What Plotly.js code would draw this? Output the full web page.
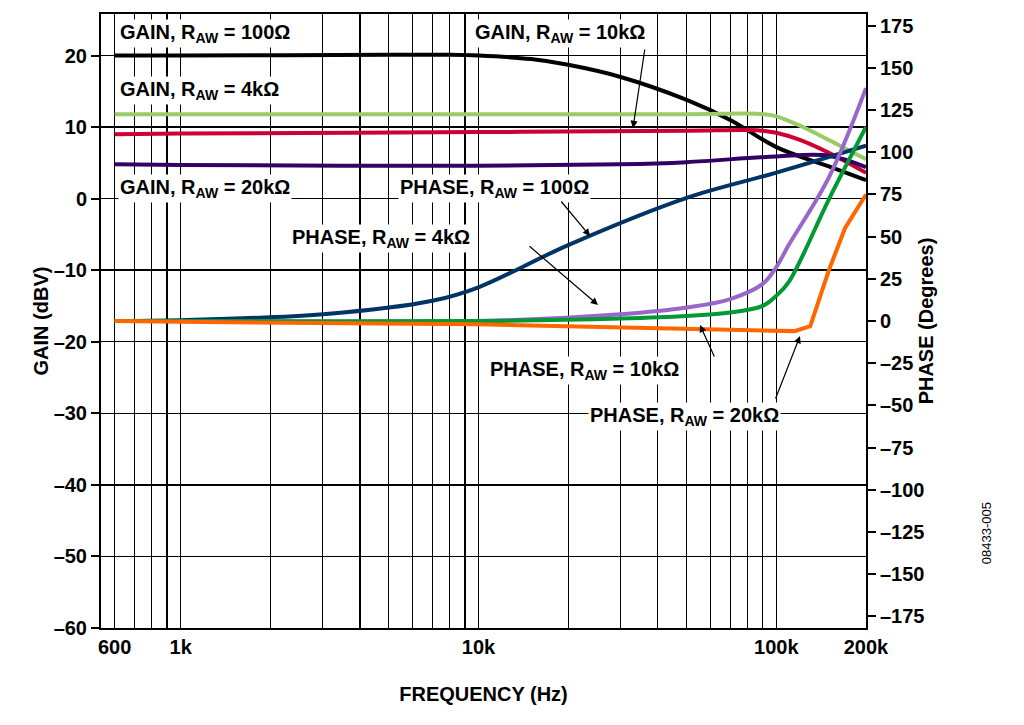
<!DOCTYPE html><html><head><meta charset="utf-8"><script src="https://cdn.plot.ly/plotly-3.0.1.min.js"></script>
<style>body{margin:0}#c{width:1024px;height:725px}</style></head><body><div id="c"></div><script>
const freqGain100=[600,1000,5000,8000,10000,15000,20000,30000,50000,70000,100000,150000,200000];
const gain100=[20,20,20.1,20.1,20,19.5,18.7,17,13.8,11,7.2,4.5,2.6];
const freqFlat=[600,1000,10000,50000,80000,90000,100000,120000,150000,200000];
const gain4k=[11.8,11.8,11.8,11.8,11.9,11.8,11.5,10.2,8.2,5.5];
const gain10k=[9,9.1,9.3,9.5,9.6,9.5,9.2,8.2,6.4,3.6];
const freqG20=[600,1000,10000,30000,50000,100000,150000,200000];
const gain20k=[4.8,4.7,4.6,4.8,5.1,5.9,6,4.4];
const freqP100=[600,1000,3000,7000,10000,20000,50000,100000,200000];
const phase100=[0,0.5,4,12,20,45,73,88,104];
const freqP=[600,1000,10000,30000,50000,70000,90000,100000,110000,150000,200000];
const phase4k=[0,0,0,4,8,13,22,32,45,85,138];
const phase10k=[0,0,0,1.5,3,5,9,15,23,72,115];
const freqP20=[600,1000,10000,30000,60000,100000,115000,130000,150000,170000,200000];
const phase20k=[0,-0.5,-2,-4,-5,-6,-6,-3,30,55,75];
const W=4;
const tr=[
 {x:freqGain100,y:gain100,line:{color:'#000000',width:W,shape:'spline'}},
 {x:freqFlat,y:gain4k,line:{color:'#99cc66',width:W,shape:'spline'}},
 {x:freqFlat,y:gain10k,line:{color:'#cc0033',width:W,shape:'spline'}},
 {x:freqG20,y:gain20k,line:{color:'#330066',width:W,shape:'spline'}},
 {x:freqP100,y:phase100,yaxis:'y2',line:{color:'#003366',width:W,shape:'spline'}},
 {x:freqP,y:phase4k,yaxis:'y2',line:{color:'#9966cc',width:W,shape:'spline'}},
 {x:freqP,y:phase10k,yaxis:'y2',line:{color:'#009933',width:W,shape:'spline'}},
 {x:freqP20,y:phase20k,yaxis:'y2',line:{color:'#ff6600',width:W}}
].map(t=>Object.assign({type:'scatter',mode:'lines',hoverinfo:'skip'},t));
const F={family:'Liberation Sans, Arial',size:20,color:'#000'};
function lbl(text,px,py){return {text:'<b>'+text+'</b>',xref:'paper',yref:'paper',x:(px-101)/765,y:(628-py)/614,showarrow:false,bgcolor:'#fff',font:{family:'Liberation Sans, Arial',size:20,color:'#000'},xanchor:'left',yanchor:'middle'};}
function arr(px0,py0,px1,py1){return {xref:'paper',yref:'paper',x:(px1-101)/765,y:(628-py1)/614,ax:(px0-101)/765,ay:(628-py0)/614,axref:'paper',ayref:'paper',text:'',showarrow:true,arrowhead:2,arrowsize:1.2,arrowwidth:1.2,arrowcolor:'#000'};}
const A=[
 lbl('GAIN, R<sub>AW</sub> = 100Ω',118,33),
 lbl('GAIN, R<sub>AW</sub> = 10kΩ',473,33),
 lbl('GAIN, R<sub>AW</sub> = 4kΩ',118,90),
 lbl('GAIN, R<sub>AW</sub> = 20kΩ',118,188),
 lbl('PHASE, R<sub>AW</sub> = 100Ω',398,188),
 lbl('PHASE, R<sub>AW</sub> = 4kΩ',290,238),
 lbl('PHASE, R<sub>AW</sub> = 10kΩ',488,370),
 lbl('PHASE, R<sub>AW</sub> = 20kΩ',588,416),
 arr(645,48,633,128), arr(560,200,590,236), arr(528,245,598,305), arr(715,358,700,325), arr(775,400,800,336)
];
Plotly.newPlot('c',tr,{width:1024,height:725,showlegend:false,margin:{l:101,r:158,t:14,b:97},
 paper_bgcolor:'#fff',plot_bgcolor:'#fff',font:F,
 xaxis:{type:'log',range:[Math.log10(540),Math.log10(200000)],tickvals:[600,1000,10000,100000,200000],ticktext:['<b>600</b>','<b>1k</b>','<b>10k</b>','<b>100k</b>','<b>200k</b>'],
  showgrid:true,gridcolor:'#000',gridwidth:1.4,minor:{showgrid:true,gridcolor:'#000',gridwidth:1.2,tickvals:[700,800,900,2000,3000,4000,5000,6000,7000,8000,9000,20000,30000,40000,50000,60000,70000,80000,90000]},
  showline:true,linecolor:'#000',linewidth:2,mirror:true,ticks:'',title:{text:'<b>FREQUENCY (Hz)</b>',font:F,standoff:30},tickfont:F},
 yaxis:{range:[-60,25.8],tickvals:[-60,-50,-40,-30,-20,-10,0,10,20],ticktext:['<b>–60</b>','<b>–50</b>','<b>–40</b>','<b>–30</b>','<b>–20</b>','<b>–10</b>','<b>0</b>','<b>10</b>','<b>20</b>'],
  showgrid:true,gridcolor:'#000',gridwidth:1.4,zeroline:false,showline:true,linecolor:'#000',linewidth:2,ticks:'outside',ticklen:8,tickwidth:2,tickcolor:'#000',title:{text:'<b>GAIN (dBV)</b>',font:F},tickfont:F},
 yaxis2:{overlaying:'y',side:'right',range:[-182,182],tickvals:[-175,-150,-125,-100,-75,-50,-25,0,25,50,75,100,125,150,175],
  ticktext:['–175','–150','–125','–100','–75','–50','–25','0','25','50','75','100','125','150','175'].map(s=>'<b>'+s+'</b>'),
  showgrid:false,zeroline:false,showline:true,linecolor:'#000',linewidth:2,ticks:'outside',ticklen:8,tickwidth:2,tickcolor:'#000',title:{text:'<b>PHASE (Degrees)</b>',font:F},tickfont:F},
 annotations:A.concat([{text:'08433-005',xref:'paper',yref:'paper',x:1.17,y:0.1,showarrow:false,textangle:-90,font:{family:'Liberation Sans, Arial',size:13,color:'#000'}}])
},{staticPlot:true});
</script></body></html>
